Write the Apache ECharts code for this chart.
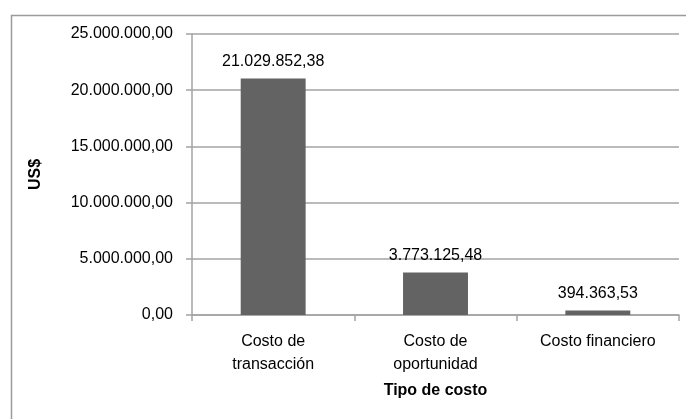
<!DOCTYPE html>
<html lang="es">
<head>
  <meta charset="UTF-8">
  <title>Tipo de costo</title>
  <script src="https://cdn.jsdelivr.net/npm/echarts@6/dist/echarts.min.js"></script>
  <style>
    html, body { margin: 0; padding: 0; background: #fff; }
    #main { width: 686px; height: 419px; }
  </style>
</head>
<body>
  <div id="main"></div>
  <script type="text/javascript">
    // datos
    var categorias = ['Costo de\ntransacción', 'Costo de\noportunidad', 'Costo financiero'];
    var valores = [21029852.38, 3773125.48, 394363.53];
    var ejeMax = 25000000;
    var ejePaso = 5000000;

    var fuente = '"Liberation Sans", Arial, sans-serif';
    var gris = '#a3a3a3';

    // formato 21.029.852,38
    function formatoES(v) {
      var partes = Number(v).toFixed(2).split('.');
      var entero = partes[0].replace(/\B(?=(\d{3})+(?!\d))/g, '.');
      return entero + ',' + partes[1];
    }

    var myChart = echarts.init(document.getElementById('main'), null, { renderer: 'canvas' });

    var option = {
      animation: false,
      backgroundColor: '#fff',
      textStyle: { fontFamily: fuente },
      graphic: [{
        type: 'rect',
        left: 9,
        top: 13,
        shape: { width: 700, height: 430 },
        style: { fill: 'none', stroke: '#9a9a9a', lineWidth: 1.5 },
        silent: true
      }],
      grid: { left: 192, right: 7, top: 34, bottom: 104 },
      xAxis: {
        type: 'category',
        data: categorias,
        name: 'Tipo de costo',
        nameLocation: 'middle',
        nameGap: 68,
        nameTextStyle: { fontFamily: fuente, fontSize: 16, fontWeight: 'bold', color: '#000' },
        axisLine: { lineStyle: { color: gris, width: 1.5 } },
        axisTick: { show: true, length: 6, lineStyle: { color: gris, width: 1.5 } },
        axisLabel: { margin: 15, fontFamily: fuente, fontSize: 16, color: '#000', lineHeight: 23, interval: 0 },
        splitLine: { show: false }
      },
      yAxis: {
        type: 'value',
        min: 0,
        max: ejeMax,
        interval: ejePaso,
        name: 'US$',
        nameLocation: 'middle',
        nameGap: 148,
        nameRotate: 90,
        nameTextStyle: { fontFamily: fuente, fontSize: 16, fontWeight: 'bold', color: '#000' },
        axisLine: { show: true, lineStyle: { color: gris, width: 1.5 } },
        axisTick: { show: true, length: 6, lineStyle: { color: gris, width: 1.5 } },
        axisLabel: {
          margin: 19,
          fontFamily: fuente,
          fontSize: 16,
          color: '#000',
          formatter: function (v) { return formatoES(v); }
        },
        splitLine: { show: true, lineStyle: { color: gris, width: 1.5 } }
      },
      series: [{
        type: 'bar',
        data: valores,
        barWidth: '40%',
        itemStyle: { color: '#636363' },
        label: {
          show: true,
          position: 'top',
          distance: 9,
          fontFamily: fuente,
          fontSize: 16,
          color: '#000',
          formatter: function (p) { return formatoES(p.value); }
        }
      }]
    };

    myChart.setOption(option);
  </script>
</body>
</html>
